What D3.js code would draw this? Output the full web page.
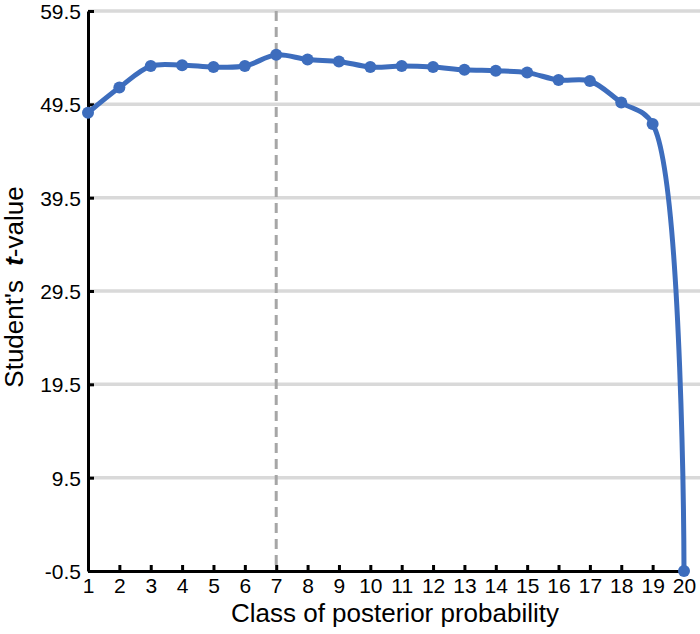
<!DOCTYPE html>
<html>
<head>
<meta charset="utf-8">
<script src="https://cdn.jsdelivr.net/npm/d3@7"></script>
<style>
  body { margin: 0; background: #fff; }
  text { font-family: "Liberation Sans", Arial, sans-serif; }
</style>
</head>
<body>
<script>
// classes of posterior probability and t-values
var classes = [1, 2, 3, 4, 5, 6, 7, 8, 9, 10, 11, 12, 13, 14, 15, 16, 17, 18, 19, 20];
var tValues = [48.6, 51.3, 53.6, 53.7, 53.5, 53.6, 54.8, 54.3, 54.1, 53.5,
               53.6, 53.5, 53.2, 53.1, 52.9, 52.1, 52.0, 49.7, 47.4, -0.5];
var yTicks = [-0.5, 9.5, 19.5, 29.5, 39.5, 49.5, 59.5];
var markedClass = 7;

var data = classes.map(function(c, i) { return {c: c, v: tValues[i]}; });

const margin = {top: 11, bottom: 63, right: 16, left: 88},
    width = 700 - margin.left - margin.right,
    height = 634 - margin.top - margin.bottom;

var x = d3.scaleLinear()
    .domain([1, 20])
    .range([0, width]);

var y = d3.scaleLinear()
    .domain([-0.5, 59.5])
    .range([height, 0]);

var svg = d3.select("body")
    .append("svg")
    .attr("width", 700)
    .attr("height", 634)
    .append("g")
    .attr("transform", "translate(" + margin.left + "," + margin.top + ")");

// horizontal gridlines
svg.selectAll(".grid")
    .data(yTicks.filter(function(d) { return d > -0.5; }))
    .enter().append("line")
    .attr("class", "grid")
    .attr("x1", 0)
    .attr("x2", width + margin.right)
    .attr("y1", function(d) { return y(d); })
    .attr("y2", function(d) { return y(d); })
    .attr("stroke", "#d9d9d9")
    .attr("stroke-width", 3.5);

// dashed marker at class 7
svg.append("line")
    .attr("x1", x(markedClass))
    .attr("x2", x(markedClass))
    .attr("y1", 0)
    .attr("y2", height)
    .attr("stroke", "#a6a6a6")
    .attr("stroke-width", 3)
    .attr("stroke-dasharray", "10,6");

// x axis
var xAxis = svg.append("g")
    .attr("transform", "translate(0," + height + ")")
    .call(d3.axisBottom(x).tickValues(classes).tickFormat(d3.format("d"))
        .tickSize(-6).tickSizeOuter(0).tickPadding(7));

// y axis
var yAxis = svg.append("g")
    .call(d3.axisLeft(y).tickValues(yTicks)
        .tickFormat(function(d) { return d.toFixed(1); })
        .tickSize(-6).tickSizeOuter(0).tickPadding(7));

[xAxis, yAxis].forEach(function(a) {
    a.select(".domain").attr("stroke", "#000").attr("stroke-width", 3);
    a.selectAll(".tick line").attr("stroke", "#000").attr("stroke-width", 3);
    a.selectAll(".tick text")
        .attr("fill", "#000")
        .style("font-size", "21px")
        .style("font-family", "'Liberation Sans', Arial, sans-serif");
});
yAxis.selectAll(".tick text").attr("dy", "0.36em");

// smoothed line
var line = d3.line()
    .curve(d3.curveCatmullRom.alpha(0.5))
    .x(function(d) { return x(d.c); })
    .y(function(d) { return y(d.v); });

svg.append("path")
    .datum(data)
    .attr("fill", "none")
    .attr("stroke", "#3d6dbd")
    .attr("stroke-width", 5)
    .attr("d", line);

svg.selectAll(".dot")
    .data(data)
    .enter().append("circle")
    .attr("class", "dot")
    .attr("r", 6)
    .attr("cx", function(d) { return x(d.c); })
    .attr("cy", function(d) { return y(d.v); })
    .attr("fill", "#3d6dbd");

// axis titles
svg.append("text")
    .attr("x", width / 2 + 9)
    .attr("y", height + 51)
    .attr("text-anchor", "middle")
    .style("font-size", "26px")
    .text("Class of posterior probability");

var yt = svg.append("text")
    .attr("transform", "translate(" + (-65) + "," + (height / 2 - 4) + ") rotate(-90)")
    .attr("text-anchor", "middle")
    .style("font-size", "26px")
    .style("word-spacing", "7px");
yt.append("tspan").text("Student's ");
yt.append("tspan").style("font-weight", "bold").style("font-style", "italic").text("t");
yt.append("tspan").text("-value");
</script>
</body>
</html>
